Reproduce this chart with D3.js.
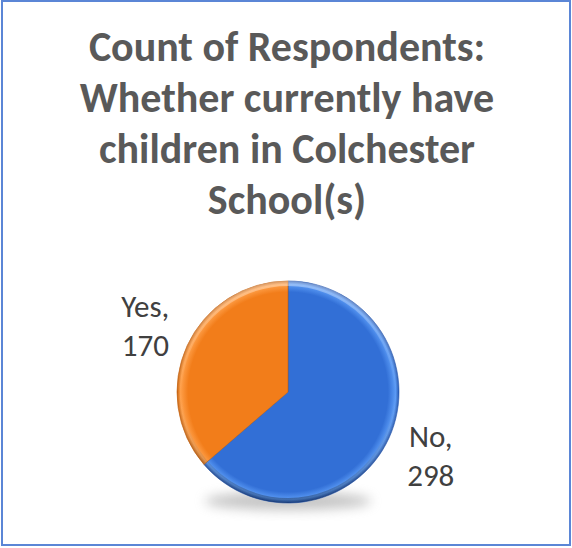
<!DOCTYPE html>
<html>
<head>
<meta charset="utf-8">
<script src="https://cdn.jsdelivr.net/npm/d3@7"></script>
<style>
  body { margin: 0; background: #fff; }
  svg { display: block; }
</style>
</head>
<body>
<svg width="572" height="548"></svg>
<script>
var categories = ["No", "Yes"];
var counts = [298, 170];
var titleLines = ["Count of Respondents:", "Whether currently have", "children in Colchester", "School(s)"];

var svg = d3.select("svg"),
    width = +svg.attr("width"),
    height = +svg.attr("height"),
    cx = 288, cy = 392, radius = 111;

var font = "Carlito, 'Open Sans', 'Liberation Sans', sans-serif";

// frame
svg.append("rect")
    .attr("x", 2).attr("y", 1)
    .attr("width", width - 4).attr("height", height - 4)
    .attr("fill", "#fff")
    .attr("stroke", "#5b86d6")
    .attr("stroke-width", 2);

// title
svg.append("g")
    .attr("font-family", font)
    .attr("font-weight", "bold")
    .attr("font-size", 42)
    .attr("fill", "#595959")
    .attr("text-anchor", "middle")
  .selectAll("text")
  .data(titleLines)
  .enter().append("text")
    .attr("x", 287)
    .attr("y", function (d, i) { return 61 + i * 51; })
    .text(function (d) { return d; });

var defs = svg.append("defs");

var colors = { No: ["#5a9af5", "#326fd6", "#2355ae"], Yes: ["#ffa04a", "#f27d1a", "#c4600c"] };

categories.forEach(function (c) {
    var grad = defs.append("radialGradient")
        .attr("id", "grad-" + c)
        .attr("gradientUnits", "userSpaceOnUse")
        .attr("cx", 0).attr("cy", 0).attr("r", radius);
    grad.append("stop").attr("offset", "0%").attr("stop-color", colors[c][1]);
    grad.append("stop").attr("offset", "90%").attr("stop-color", colors[c][1]);
    grad.append("stop").attr("offset", "97%").attr("stop-color", colors[c][0]);
    grad.append("stop").attr("offset", "100%").attr("stop-color", colors[c][2]);
});

// bevel: light from top, dark toward the bottom
var bevel = defs.append("linearGradient")
    .attr("id", "bevel")
    .attr("x1", 0).attr("y1", 0).attr("x2", 0).attr("y2", 1);
bevel.append("stop").attr("offset", "0%").attr("stop-color", "#fff").attr("stop-opacity", 0.35);
bevel.append("stop").attr("offset", "50%").attr("stop-color", "#fff").attr("stop-opacity", 0);
bevel.append("stop").attr("offset", "100%").attr("stop-color", "#000").attr("stop-opacity", 0.3);

var shadow = defs.append("filter").attr("id", "shadow")
    .attr("x", "-30%").attr("y", "-60%").attr("width", "160%").attr("height", "220%");
shadow.append("feGaussianBlur").attr("stdDeviation", 6);

var data = categories.map(function (c, i) { return { cat: c, value: counts[i] }; });

var pie = d3.pie().sort(null).value(function (d) { return d.value; });
var arc = d3.arc().innerRadius(0).outerRadius(radius);
var labelArc = d3.arc().innerRadius(157).outerRadius(157);

var g = svg.append("g").attr("transform", "translate(" + cx + "," + cy + ")");

// soft shadow under the pie
g.append("ellipse")
    .attr("cx", 0).attr("cy", radius - 2)
    .attr("rx", radius * 0.75).attr("ry", 9)
    .attr("fill", "#888")
    .attr("opacity", 0.5)
    .attr("filter", "url(#shadow)");

var arcs = pie(data);

g.selectAll("path.slice")
  .data(arcs)
  .enter().append("path")
    .attr("class", "slice")
    .attr("d", arc)
    .attr("fill", function (d) { return "url(#grad-" + d.data.cat + ")"; })
    .attr("stroke", function (d) { return colors[d.data.cat][2]; })
    .attr("stroke-width", 0.6);

// bevel ring on the rim
g.append("circle")
    .attr("r", radius - 2.5)
    .attr("fill", "none")
    .attr("stroke", "url(#bevel)")
    .attr("stroke-width", 5);

// labels
var labels = g.selectAll("text.label")
  .data(arcs)
  .enter().append("text")
    .attr("class", "label")
    .attr("font-family", font)
    .attr("font-size", 31)
    .attr("fill", "#404040")
    .attr("text-anchor", "middle")
    .attr("transform", function (d) {
        var c = labelArc.centroid(d);
        return "translate(" + c[0] + "," + c[1] + ")";
    });

labels.append("tspan")
    .attr("x", 0).attr("y", -10)
    .text(function (d) { return d.data.cat + ","; });
labels.append("tspan")
    .attr("x", 0).attr("y", 29)
    .text(function (d) { return d.data.value; });
</script>
</body>
</html>
